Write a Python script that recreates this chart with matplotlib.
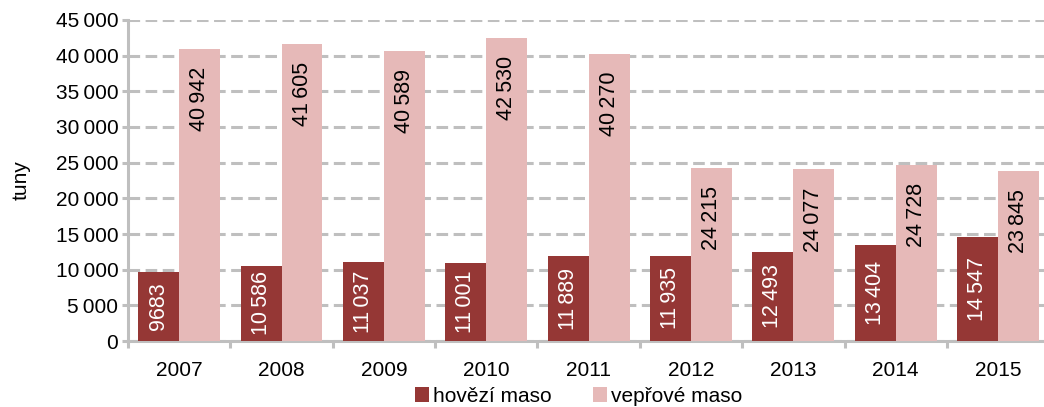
import numpy as np
import matplotlib.pyplot as plt
from matplotlib.ticker import FuncFormatter, FixedLocator

plt.rcParams['font.family'] = ['Liberation Sans', 'DejaVu Sans']

years = ['2007', '2008', '2009', '2010', '2011', '2012', '2013', '2014', '2015']
hovezi = [9683, 10586, 11037, 11001, 11889, 11935, 12493, 13404, 14547]
veprove = [40942, 41605, 40589, 42530, 40270, 24215, 24077, 24728, 23845]

dark = '#953735'
pink = '#E6B9B8'
grey = '#BFBFBF'


def fmt_label(v):
    if v < 10000:
        return str(v)
    return f"{v:,}".replace(",", "\u2009")


fig = plt.figure(figsize=(10.44, 4.07), dpi=100)
ax = fig.add_axes([0.1226, 0.162, 1.005 - 0.1226, 0.951 - 0.162])

x = np.arange(len(years))
w = 0.4
b1 = ax.bar(x - w / 2, hovezi, w, color=dark, zorder=3, label='hovězí maso')
b2 = ax.bar(x + w / 2, veprove, w, color=pink, zorder=3, label='vepřové maso')

# data labels
for rect, v in zip(b1, hovezi):
    ax.text(rect.get_x() + rect.get_width() / 2, v / 2, fmt_label(v),
            rotation=90, ha='center', va='center', color='white',
            fontsize=15.5, zorder=4)
for rect, v in zip(b2, veprove):
    ax.annotate(fmt_label(v), (rect.get_x() + rect.get_width() / 2, v),
                xytext=(0, -13), textcoords='offset points',
                rotation=90, ha='center', va='top', color='black',
                fontsize=15.5, zorder=4)

ax.set_xlim(-0.5, len(years) - 0.5)
ax.set_ylim(0, 45000)
ax.set_yticks(np.arange(0, 45001, 5000))
ax.yaxis.set_major_formatter(FuncFormatter(
    lambda v, p: f"{int(v):,}".replace(",", "\u2009")))
ax.set_xticks(x)
ax.set_xticklabels(years)
ax.xaxis.set_minor_locator(FixedLocator(np.arange(-0.5, len(years), 1.0)))

ax.tick_params(axis='x', which='major', length=0, labelsize=15, pad=14)
ax.tick_params(axis='x', which='minor', length=5, width=2.2, color=grey)
ax.tick_params(axis='y', length=4, width=2.2, color=grey, labelsize=15, pad=3)

ax.yaxis.grid(True, color=grey, linewidth=2.2, linestyle=(0, (3.8, 1.8)), zorder=0)
ax.set_axisbelow(True)

for s in ['top', 'right']:
    ax.spines[s].set_visible(False)
for s in ['left', 'bottom']:
    ax.spines[s].set_color(grey)
    ax.spines[s].set_linewidth(2.2)

ax.set_ylabel('tuny', fontsize=15)
ax.yaxis.set_label_coords(-0.106, 0.5)

fig.legend(handles=[b1, b2], loc='center', bbox_to_anchor=(0.554, 0.026),
           ncol=2, frameon=False, fontsize=15, handlelength=0.7,
           handleheight=0.7, handletextpad=0.15, columnspacing=2.0,
           borderpad=0.1)

fig.savefig('out.png', dpi=100)
